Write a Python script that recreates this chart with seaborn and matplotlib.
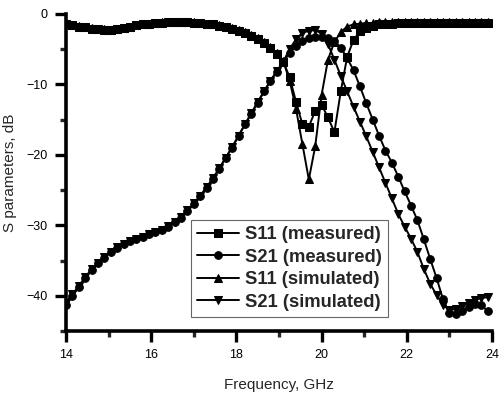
import matplotlib
matplotlib.use("Agg")
import matplotlib.pyplot as plt
import seaborn as sns
from matplotlib.ticker import MultipleLocator

# frequency grid, GHz (0.15 GHz step)
FREQ = [14.0, 14.15, 14.3, 14.45, 14.6, 14.75, 14.9, 15.05, 15.2, 15.35,
        15.5, 15.65, 15.8, 15.95, 16.1, 16.25, 16.4, 16.55, 16.7, 16.85,
        17.0, 17.15, 17.3, 17.45, 17.6, 17.75, 17.9, 18.05, 18.2, 18.35,
        18.5, 18.65, 18.8, 18.95, 19.1, 19.25, 19.4, 19.55, 19.7, 19.85,
        20.0, 20.15, 20.3, 20.45, 20.6, 20.75, 20.9, 21.05, 21.2, 21.35,
        21.5, 21.65, 21.8, 21.95, 22.1, 22.25, 22.4, 22.55, 22.7, 22.85,
        23.0, 23.15, 23.3, 23.45, 23.6, 23.75, 23.9]

S11_MEAS = [-1.5, -1.6, -1.8, -1.9, -2.1, -2.2, -2.3, -2.3, -2.2, -2.0,
            -1.8, -1.6, -1.5, -1.4, -1.3, -1.3, -1.2, -1.2, -1.2, -1.2,
            -1.3, -1.3, -1.4, -1.5, -1.7, -1.9, -2.1, -2.4, -2.7, -3.1,
            -3.6, -4.1, -4.8, -5.7, -6.8, -9.0, -12.5, -15.7, -16.0, -13.8,
            -12.9, -14.7, -16.8, -11.0, -6.1, -3.7, -2.5, -2.0, -1.7, -1.5,
            -1.4, -1.4, -1.3, -1.3, -1.3, -1.3, -1.3, -1.3, -1.3, -1.3,
            -1.3, -1.3, -1.3, -1.3, -1.3, -1.3, -1.3]

S21_MEAS = [-41.3, -40.0, -38.8, -37.5, -36.3, -35.4, -34.6, -33.8, -33.2, -32.6,
            -32.2, -31.9, -31.6, -31.3, -31.0, -30.7, -30.2, -29.6, -28.9, -28.0,
            -27.0, -25.9, -24.7, -23.4, -22.0, -20.4, -19.0, -17.3, -15.7, -14.2,
            -12.6, -11.0, -9.5, -8.2, -6.9, -5.5, -4.5, -3.8, -3.5, -3.3,
            -3.3, -3.5, -3.8, -4.8, -6.3, -8.0, -10.3, -12.7, -15.0, -17.3,
            -19.4, -21.1, -23.1, -25.2, -27.2, -29.3, -32.0, -34.8, -37.5, -40.5,
            -42.5, -42.6, -42.2, -41.6, -41.1, -41.3, -42.2]

S11_SIM = [-1.5, -1.6, -1.7, -1.9, -2.0, -2.2, -2.2, -2.3, -2.2, -2.0,
           -1.8, -1.6, -1.5, -1.4, -1.3, -1.2, -1.2, -1.2, -1.2, -1.2,
           -1.2, -1.3, -1.4, -1.5, -1.6, -1.8, -2.0, -2.3, -2.6, -3.0,
           -3.5, -4.0, -4.7, -5.6, -6.7, -9.5, -13.5, -18.5, -23.5, -18.8,
           -11.5, -6.5, -4.0, -2.6, -1.8, -1.5, -1.4, -1.3, -1.3, -1.2,
           -1.2, -1.2, -1.2, -1.2, -1.2, -1.2, -1.2, -1.2, -1.2, -1.2,
           -1.2, -1.2, -1.2, -1.2, -1.2, -1.2, -1.2]

S21_SIM = [-41.0, -39.8, -38.6, -37.4, -36.2, -35.3, -34.5, -33.8, -33.1, -32.6,
           -32.2, -31.9, -31.6, -31.3, -31.0, -30.6, -30.1, -29.5, -28.8, -27.9,
           -26.9, -25.8, -24.6, -23.3, -21.9, -20.4, -18.9, -17.3, -15.7, -14.1,
           -12.5, -11.0, -9.5, -8.1, -6.8, -5.0, -3.6, -2.7, -2.4, -2.3,
           -2.8, -4.3, -6.5, -8.8, -11.0, -13.2, -15.3, -17.4, -19.6, -21.8,
           -24.0, -26.2, -28.4, -30.2, -31.9, -33.8, -36.2, -38.3, -39.9, -41.3,
           -42.0, -41.9, -41.4, -41.0, -40.6, -40.3, -40.2]

sns.set_style("ticks")
plt.rcParams['font.family'] = ['Liberation Sans', 'DejaVu Sans']

fig, ax = plt.subplots(figsize=(5, 3.95), dpi=100)
fig.subplots_adjust(left=0.132, right=0.984, bottom=0.162, top=0.965)

series = [(S11_MEAS, "s", "S11 (measured)", 5.2),
          (S21_MEAS, "o", "S21 (measured)", 5.5),
          (S11_SIM, "^", "S11 (simulated)", 6.0),
          (S21_SIM, "v", "S21 (simulated)", 6.0)]
for vals, mk, lab, ms in series:
    sns.lineplot(x=FREQ, y=vals, ax=ax, color="black", linewidth=1.4,
                 marker=mk, markersize=ms, markeredgecolor="black",
                 label=lab, sort=False)

ax.set_xlim(14, 24)
ax.set_ylim(-45, 0)
ax.xaxis.set_major_locator(MultipleLocator(2))
ax.xaxis.set_minor_locator(MultipleLocator(1))
ax.yaxis.set_major_locator(MultipleLocator(10))
ax.yaxis.set_minor_locator(MultipleLocator(5))
ax.tick_params(which="major", direction="out", length=8, width=2.4,
               labelsize=9, pad=5, colors="black")
ax.tick_params(which="minor", direction="out", length=4.5, width=2.4)

sns.despine(ax=ax)
for s in ["left", "bottom"]:
    ax.spines[s].set_linewidth(2.6)
    ax.spines[s].set_color("black")

ax.set_xlabel("Frequency, GHz", fontsize=11, labelpad=12)
ax.set_ylabel("S parameters, dB", fontsize=11, labelpad=7)

ax.legend(loc="lower left", bbox_to_anchor=(0.293, 0.044),
          prop={"weight": "bold", "size": 13.2}, frameon=True, fancybox=False,
          edgecolor="0.4", framealpha=1, handlelength=2.3, labelspacing=0.3,
          borderpad=0.35, handletextpad=0.3, borderaxespad=0)
ax.get_legend().get_frame().set_linewidth(0.8)

plt.savefig("out.png", dpi=100)
